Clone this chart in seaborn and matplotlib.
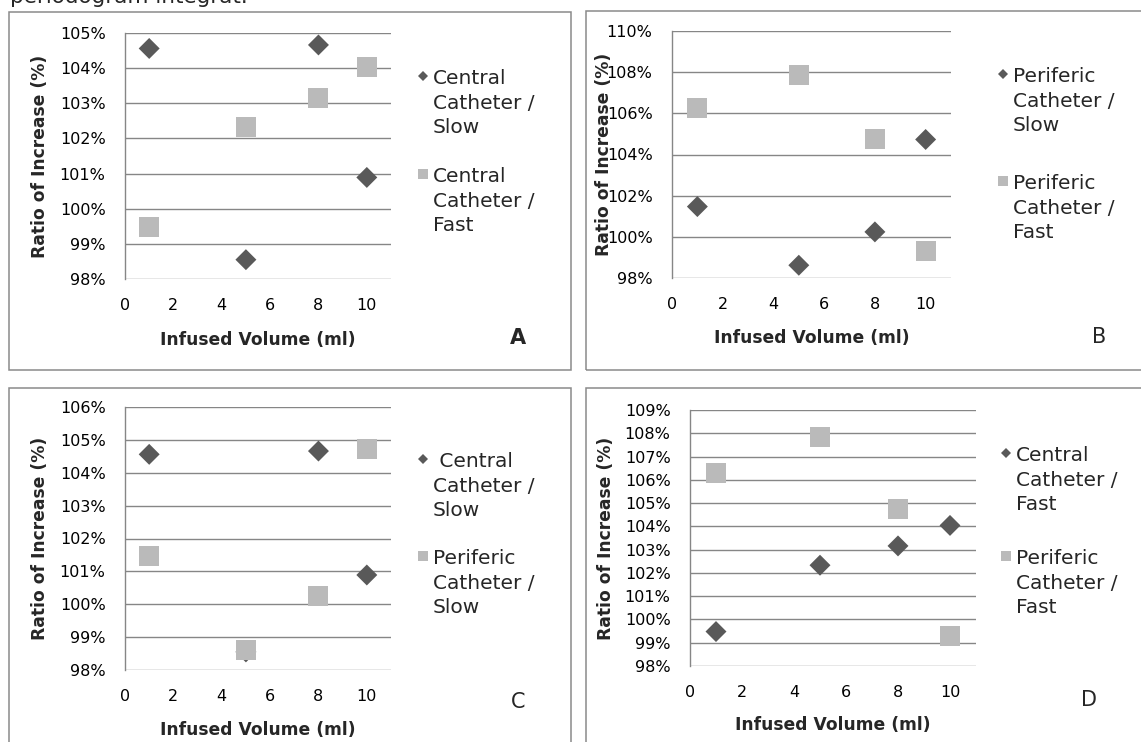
import numpy as np
import pandas as pd
import matplotlib.pyplot as plt
from matplotlib.patches import Rectangle
from matplotlib.lines import Line2D
import seaborn as sns

# Ratio of increase (%) per infused volume (ml)
volume = [1, 5, 8, 10]
central_slow = [104.56, 98.55, 104.66, 100.89]
central_fast = [99.48, 102.33, 103.16, 104.04]
periferic_slow = [101.47, 98.62, 100.24, 104.73]
periferic_fast = [106.28, 107.84, 104.73, 99.29]

x_ticks = [0, 2, 4, 6, 8, 10]
y_ticks_a = [98, 99, 100, 101, 102, 103, 104, 105]
y_ticks_b = [98, 100, 102, 104, 106, 108, 110]
y_ticks_c = [98, 99, 100, 101, 102, 103, 104, 105, 106]
y_ticks_d = [98, 99, 100, 101, 102, 103, 104, 105, 106, 107, 108, 109]

lab_cs = "Central\nCatheter /\nSlow"
lab_cf = "Central\nCatheter /\nFast"
lab_ps = "Periferic\nCatheter /\nSlow"
lab_pf = "Periferic\nCatheter /\nFast"

sns.set_style("white")
plt.rcParams['font.family'] = ['DejaVu Sans']

W, H = 1141, 742
fig = plt.figure(figsize=(W / 100, H / 100), dpi=100)

DARK = "#595959"
LIGHT = "#bababa"
GRID = "#868686"
BOX = "#8a8a8a"


def fx(px):
    return px / W


def fy(py):
    return 1 - py / H


# panel frames (pixel coords: left, top, right, bottom)
for l, t, r, b in [(9, 12, 571, 370), (586, 11, 1170, 370),
                   (9, 388, 571, 770), (586, 388, 1170, 770)]:
    fig.add_artist(Rectangle((fx(l), fy(b)), fx(r - l), (b - t) / H,
                             transform=fig.transFigure, fill=False,
                             edgecolor=BOX, lw=1.1))

# cut-off line of body text above the figure
fig.text(fx(10), fy(3), "periodogram integrat.", fontsize=15.5,
         ha='left', va='baseline')

panels = [
    dict(rect=(125, 33, 391, 279), s1=(central_slow, lab_cs), s2=(central_fast, lab_cf),
         yt=y_ticks_a, ylab_x=40, xlab_y=340, leg=(418, 69), lsp=1.5,
         letter=("A", 518, 338, 'bold')),
    dict(rect=(672, 31, 951, 278), s1=(periferic_slow, lab_ps), s2=(periferic_fast, lab_pf),
         yt=y_ticks_b, ylab_x=604, xlab_y=338, leg=(998, 67), lsp=1.95,
         letter=("B", 1099, 337, 'normal')),
    dict(rect=(125, 407, 391, 670), s1=(central_slow, " " + lab_cs), s2=(periferic_slow, lab_ps),
         yt=y_ticks_c, ylab_x=40, xlab_y=730, leg=(418, 452), lsp=1.45,
         letter=("C", 518, 702, 'normal')),
    dict(rect=(690, 410, 976, 666), s1=(central_fast, lab_cf), s2=(periferic_fast, lab_pf),
         yt=y_ticks_d, ylab_x=606, xlab_y=725, leg=(1001, 446), lsp=1.75,
         letter=("D", 1089, 700, 'normal')),
]

for p in panels:
    l, t, r, b = p['rect']
    ax = fig.add_axes([fx(l), fy(b), fx(r - l), (b - t) / H])
    df = pd.DataFrame({"vol": volume, "s1": p['s1'][0], "s2": p['s2'][0]})
    sns.scatterplot(data=df, x="vol", y="s1", marker="D", s=114, color=DARK,
                    edgecolor="none", ax=ax, clip_on=False, zorder=3)
    sns.scatterplot(data=df, x="vol", y="s2", marker="s", s=207, color=LIGHT,
                    edgecolor="none", ax=ax, clip_on=False, zorder=4)

    ax.set_xlim(0, 11)
    ax.set_ylim(p['yt'][0], p['yt'][-1])
    ax.set_xticks(x_ticks)
    ax.set_xticklabels([str(v) for v in x_ticks])
    ax.set_yticks(p['yt'])
    ax.set_yticklabels([f"{v}%" for v in p['yt']])
    ax.tick_params(length=0, pad=14, labelsize=11.5, labelcolor="black")
    ax.yaxis.grid(True, color=GRID, lw=1.0)
    ax.xaxis.grid(False)
    ax.set_axisbelow(True)
    for side in ['top', 'right', 'bottom']:
        ax.spines[side].set_visible(False)
    ax.spines['left'].set_color(GRID)
    ax.spines['left'].set_linewidth(1.0)
    ax.patch.set_alpha(0)

    ax.set_ylabel("Ratio of Increase (%)", fontsize=12.3, fontweight='bold')
    ax.set_xlabel("Infused Volume (ml)", fontsize=12.3, fontweight='bold')
    ax.yaxis.label.set_va('center')
    ax.xaxis.label.set_va('center')
    ax.yaxis.set_label_coords((p['ylab_x'] - l) / (r - l), 0.5)
    ax.xaxis.set_label_coords(0.5, (b - p['xlab_y']) / (b - t))

    handles = [Line2D([], [], marker="D", ls="none", markersize=5.2, color=DARK, markeredgewidth=0),
               Line2D([], [], marker="s", ls="none", markersize=7.2, color=LIGHT, markeredgewidth=0)]
    leg = ax.legend(handles, [p['s1'][1], p['s2'][1]], loc='upper left',
                    bbox_to_anchor=(fx(p['leg'][0]), fy(p['leg'][1])),
                    bbox_transform=fig.transFigure, frameon=False, fontsize=14.5,
                    handlelength=0.5, handletextpad=0.25, borderpad=0,
                    borderaxespad=0, labelspacing=p['lsp'])
    for txt in leg.get_texts():
        txt.set_linespacing(1.37)
    for col in leg._legend_handle_box.get_children():
        for row in col.get_children():
            row.align = 'top'

    txt, lx, ly, wt = p['letter']
    fig.text(fx(lx), fy(ly), txt, fontsize=15, fontweight=wt, ha='center', va='center')

fig.savefig("out.png", dpi=100)
